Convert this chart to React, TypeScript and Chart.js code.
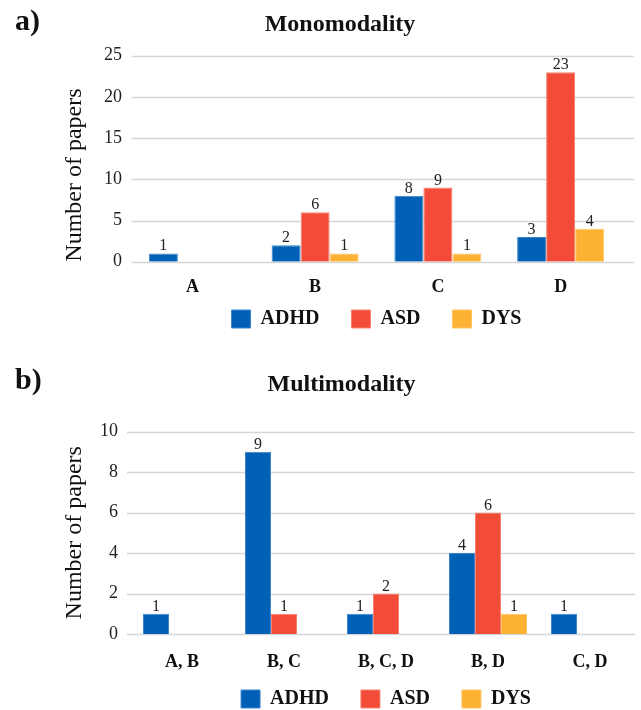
import React, { useEffect, useRef } from "react";
import { Chart, registerables } from "chart.js";

Chart.register(...registerables);

const FONT = "'Liberation Serif', 'Times New Roman', serif";
Chart.defaults.font.family = FONT;
Chart.defaults.color = "#222";

const seriesNames = ["ADHD", "ASD", "DYS"];
const seriesColors = ["#0060B6", "#F24B37", "#FEB233"];
const seriesBorders = ["#3C86CC", "#F6806F", "#FFC463"];

const monoCategories = ["A", "B", "C", "D"];
const monoADHD = [1, 2, 8, 3];
const monoASD = [null, 6, 9, 23];
const monoDYS = [null, 1, 1, 4];
const monoTicks = [0, 5, 10, 15, 20, 25];

const multiCategories = ["A, B", "B, C", "B, C, D", "B, D", "C, D"];
const multiADHD = [1, 9, 1, 4, 1];
const multiASD = [null, 1, 2, 6, null];
const multiDYS = [null, null, null, 1, null];
const multiTicks = [0, 2, 4, 6, 8, 10];

const gridPlugin = {
  id: "extGrid",
  beforeDatasetsDraw(chart: any, _args: any, opts: any) {
    const y = chart.scales.y;
    const ctx = chart.ctx;
    ctx.save();
    ctx.strokeStyle = opts.color;
    ctx.lineWidth = opts.width;
    y.ticks.forEach((t: any) => {
      const py = Math.round(y.getPixelForValue(t.value)) + 0.5;
      ctx.beginPath();
      ctx.moveTo(opts.from, py);
      ctx.lineTo(opts.to, py);
      ctx.stroke();
    });
    ctx.restore();
  },
};

const valuePlugin = {
  id: "values",
  afterDatasetsDraw(chart: any, _args: any, opts: any) {
    const ctx = chart.ctx;
    ctx.save();
    ctx.font = `${opts.size}px ${FONT}`;
    ctx.fillStyle = opts.color;
    ctx.textAlign = "center";
    ctx.textBaseline = "alphabetic";
    chart.data.datasets.forEach((ds: any, i: number) => {
      const meta = chart.getDatasetMeta(i);
      meta.data.forEach((el: any, j: number) => {
        const v = ds.data[j];
        if (v == null) return;
        ctx.fillText(String(v), el.x, el.y - opts.gap);
      });
    });
    ctx.restore();
  },
};

const xLabelPlugin = {
  id: "xLabels",
  afterDraw(chart: any, _args: any, opts: any) {
    const ctx = chart.ctx;
    const xs = chart.scales.x;
    ctx.save();
    ctx.font = `bold ${opts.size}px ${FONT}`;
    ctx.fillStyle = "#111";
    ctx.textAlign = "center";
    ctx.textBaseline = "alphabetic";
    chart.data.labels.forEach((lab: string, i: number) => {
      ctx.fillText(lab, xs.getPixelForValue(i), chart.chartArea.bottom + opts.offset);
    });
    ctx.restore();
  },
};

const panelPlugin = {
  id: "panel",
  afterDraw(chart: any, _args: any, opts: any) {
    const ctx = chart.ctx;
    ctx.save();
    ctx.font = `bold ${opts.size}px ${FONT}`;
    ctx.fillStyle = "#111";
    ctx.textAlign = "left";
    ctx.textBaseline = "alphabetic";
    ctx.fillText(opts.text, opts.x, opts.y);
    ctx.restore();
  },
};

function makeConfig(p: any) {
  const datasets = [p.adhd, p.asd, p.dys].map((d: any, i: number) => ({
    label: seriesNames[i],
    data: d,
    backgroundColor: seriesColors[i],
    borderColor: seriesBorders[i],
    borderWidth: 1,
    categoryPercentage: p.catPct,
    barPercentage: 1,
  }));
  return {
    type: "bar",
    data: { labels: p.categories, datasets },
    plugins: [gridPlugin, valuePlugin, xLabelPlugin, panelPlugin],
    options: {
      responsive: false,
      animation: false,
      events: [],
      font: { family: FONT },
      layout: { padding: { left: p.padLeft, right: p.padRight, top: 0, bottom: 0 } },
      scales: {
        x: {
          grid: { display: false, drawTicks: false },
          border: { display: false },
          ticks: { display: false },
          afterFit: (s: any) => {
            s.height = p.xHeight;
          },
        },
        y: {
          min: p.ticks[0],
          max: p.ticks[p.ticks.length - 1],
          grid: { display: false, drawTicks: false },
          border: { display: false },
          ticks: {
            stepSize: p.ticks[1] - p.ticks[0],
            padding: p.yPad,
            font: { family: FONT, size: 18 },
            color: "#222",
          },
          title: {
            display: true,
            text: "Number of papers",
            font: { family: FONT, size: 24 },
            color: "#111",
            align: p.yTitleAlign,
            padding: { top: p.yTitlePad, bottom: 0 },
          },
          afterFit: (s: any) => {
            s.width = p.yWidth;
          },
        },
      },
      plugins: {
        tooltip: { enabled: false },
        title: {
          display: true,
          text: p.title,
          font: { family: FONT, size: 24, weight: "bold" },
          color: "#111",
          padding: { top: p.titleTop, bottom: p.titleBottom },
        },
        legend: {
          position: "bottom",
          fullSize: false,
          labels: {
            boxWidth: 19,
            boxHeight: 18,
            padding: 32,
            font: { family: FONT, size: 20, weight: "bold" },
            color: "#111",
          },
        },
        extGrid: { from: p.gridFrom, to: p.gridTo, color: "#d6d6d6", width: 1.5 },
        values: { size: 16, color: "#222", gap: 3 },
        xLabels: { size: 18, offset: p.xLabelOffset },
        panel: { text: p.panel, x: 15, y: p.panelY, size: 30 },
      },
    },
  };
}

function BarChart(props: any) {
  const ref = useRef<HTMLCanvasElement>(null);
  useEffect(() => {
    const chart = new Chart(ref.current as any, makeConfig(props) as any);
    return () => chart.destroy();
  }, []);
  return (
    <canvas
      ref={ref}
      width={641}
      height={props.height}
      style={{ position: "absolute", left: 0, top: props.top, width: 641, height: props.height }}
    />
  );
}

export default function App() {
  return (
    <div
      style={{
        position: "absolute",
        left: 0,
        top: 0,
        width: 641,
        height: 710,
        overflow: "hidden",
        background: "#fff",
      }}
    >
      <BarChart
        top={0}
        height={339}
        title="Monomodality"
        panel="a)"
        panelY={30}
        categories={monoCategories}
        adhd={monoADHD}
        asd={monoASD}
        dys={monoDYS}
        ticks={monoTicks}
        catPct={0.709}
        padLeft={58}
        padRight={19}
        yWidth={73}
        yPad={9}
        yTitlePad={2.6}
        yTitleAlign="start"
        xHeight={15.3}
        xLabelOffset={30}
        titleTop={10.8}
        titleBottom={16.1}
        gridFrom={131.5}
        gridTo={634}
      />
      <BarChart
        top={339}
        height={380}
        title="Multimodality"
        panel="b)"
        panelY={50}
        categories={multiCategories}
        adhd={multiADHD}
        asd={multiASD}
        dys={multiDYS}
        ticks={multiTicks}
        catPct={0.765}
        padLeft={42}
        padRight={0}
        yWidth={89}
        yPad={13}
        yTitlePad={18.6}
        yTitleAlign="center"
        xHeight={23}
        xLabelOffset={33.3}
        titleTop={31.8}
        titleBottom={31.9}
        gridFrom={127}
        gridTo={635}
      />
    </div>
  );
}
